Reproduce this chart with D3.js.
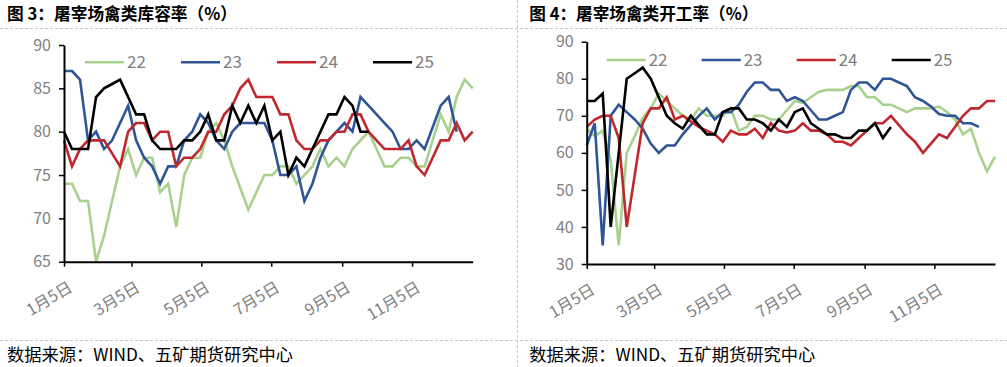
<!DOCTYPE html>
<html><head><meta charset="utf-8">
<script src="https://cdn.jsdelivr.net/npm/d3@7"></script>
<style>
html,body{margin:0;padding:0;background:#fff;}
svg{display:block;}
</style></head>
<body>
<svg id="c" width="1007" height="367"></svg>
<script>
// ---------- data ----------
const seriesNames = ["22", "23", "24", "25"];
const seriesColors = ["#A9D18E", "#2F5597", "#C0282D", "#000000"];
const startDate = "2025-01-05";           // first weekly observation
const tickDates = ["2025-01-05","2025-03-05","2025-05-05","2025-07-05","2025-09-05","2025-11-05"];
const endDate = "2025-12-28";

// 图3 屠宰场禽类库容率
const stock22 = [74,74,72,72,65,68,72,76,78,75,77,77,73,74,69,75,77,77,80,81,79,76,73.5,71,73,75,75,76,76,74,75,76,78,76,77,76,78,79,80,78,76,76,77,77,76,76,79,82,80,84,86,85];
const stock23 = [87,87,86,79,80,78,79,81,83,79,77,76,74,76,76,79,80,82,81,79,78,80,81,81,81,81,79,75,75,76,72,74,77,79,80,81,80,84,83,82,81,80,78,78,79,78,80.5,83,84,80];
const stock24 = [79,76,78,79,79,79,77.5,76,80,81,81,79,80,80,76,77,77,78,80,80,82,83,85,86,84,84,84,82,82,79,78,78,79,79,80,80,82,82,80,79,78,78,78,79,76,75,77,79,79,81,79,80];
const stock25 = [80,78,78,78,84,85,85.5,86,84,82,82,79,78,78,78,79,79,80,82,79,79,83,81,83,81,83,79,80,75,77,76,78,80,82,82,84,83,80,80];
const stockTicks = [65,70,75,80,85,90];

// 图4 屠宰场禽类开工率
const oper22 = [66.5,64.5,66,58,35,60,64.5,69.5,72,76,74,72,70,69,72,70,70,70,72,66,67,70,70,69,69,71.5,74,73.5,75,76.5,77,77,77,78,78,75,75,73,73,72,71,72,72,72,72.5,71,69,65,66.5,60,55,59];
const oper23 = [62,68,35,70,73,71,69,66.5,62.5,60,62,62,65,67.5,70,72,69,71,71,73,76.5,79,79,77,77,74,75,74,71.5,69,69,70,71,77,79,79,77,80,80,79,78,75,74,72.5,70.5,70,70,68,68,67];
const oper24 = [67,69,70,70,64,40,54,68,72,72,75,69,70,68.5,67,66,65,63,66,65,65,66.5,64,68,66,65.5,66,68,66,66,65,63,63,62,64,66,68,68,70,67.5,65,63,60,62.5,65,64,67,70,72,72,74,74];
const oper25 = [74,74,76,40,60,80,81.5,83,80,75,70,68,66.5,70,67.5,65,65,71,72,72,69,69,68,66,69,67,71,72,68,66.5,65,65,64,64,66,66,68,64,67];
const operTicks = [30,40,50,60,70,80,90];

// ---------- drawing ----------
const svg = d3.select("#c");
const parse = d3.timeParse("%Y-%m-%d");
const fmt = d => (d.getMonth()+1) + "月" + d.getDate() + "日";
const grey = "#7f7f7f";
const font = "'Noto Sans CJK SC','Noto Sans',sans-serif";

// frame
const frame = svg.append("g").attr("stroke","#c8c8c8").attr("stroke-dasharray","3,2").attr("stroke-width",1);
frame.append("line").attr("x1",0).attr("x2",1007).attr("y1",28.5).attr("y2",28.5);
frame.append("line").attr("x1",0).attr("x2",1007).attr("y1",340.5).attr("y2",340.5);
frame.append("line").attr("x1",517.5).attr("x2",517.5).attr("y1",0).attr("y2",367);

function panel(cfg) {
  const g = svg.append("g");
  // title
  g.append("text").attr("x",cfg.tx).attr("y",19.5)
    .attr("font-family",font).attr("font-weight","bold").attr("font-size",17)
    .attr("textLength",cfg.tLen).attr("lengthAdjust","spacingAndGlyphs")
    .attr("fill","#000").text(cfg.title);
  // footer
  g.append("text").attr("x",cfg.tx).attr("y",361)
    .attr("font-family",font).attr("font-size",17)
    .attr("textLength",286).attr("lengthAdjust","spacingAndGlyphs")
    .attr("fill","#000").text("数据来源：WIND、五矿期货研究中心");

  const x = d3.scaleTime().domain([parse(startDate), parse(endDate)]).range([cfg.x0, cfg.x1]);
  const y = d3.scaleLinear().domain([cfg.ticks[0], cfg.ticks[cfg.ticks.length-1]]).range([cfg.y0, cfg.y1]);

  // lines
  const line = d3.line().x((d,i)=>x(d3.timeDay.offset(parse(startDate), 7*i))).y(d=>y(d));
  cfg.data.forEach((arr,k)=>{
    g.append("path").datum(arr).attr("d",line).attr("fill","none")
      .attr("stroke",seriesColors[k]).attr("stroke-width",2.6)
      .attr("stroke-linejoin","miter").attr("stroke-linecap","butt");
  });

  // y axis
  const ya = g.append("g").attr("transform",`translate(${cfg.x0},0)`)
    .call(d3.axisLeft(y).tickValues(cfg.ticks).tickSize(5).tickPadding(8).tickSizeOuter(0));
  ya.select(".domain").attr("stroke","#000").attr("stroke-width",2);
  ya.selectAll(".tick line").attr("stroke","#000").attr("stroke-width",1.5);
  ya.selectAll("text").attr("font-family",font).attr("font-size",16).attr("fill",grey);

  // x axis
  const xa = g.append("g").attr("transform",`translate(0,${cfg.y0})`)
    .call(d3.axisBottom(x).tickValues(tickDates.map(parse)).tickFormat(fmt).tickSize(5).tickSizeOuter(0));
  xa.select(".domain").attr("stroke","#000").attr("stroke-width",2);
  xa.selectAll(".tick line").attr("stroke","#000").attr("stroke-width",1.5);
  xa.selectAll("text").attr("font-family",font).attr("font-size",16).attr("fill",grey)
    .attr("text-anchor","end").attr("dy","0.35em")
    .attr("transform","translate(6,24) rotate(-31)").attr("y",0);

  // legend
  seriesNames.forEach((n,k)=>{
    const lx = cfg.lx + k*cfg.ldx;
    g.append("line").attr("x1",lx).attr("x2",lx+39).attr("y1",cfg.ly).attr("y2",cfg.ly)
      .attr("stroke",seriesColors[k]).attr("stroke-width",2.6);
    g.append("text").attr("x",lx+42).attr("y",cfg.ly).attr("dy","0.36em")
      .attr("font-family",font).attr("font-size",17).attr("fill",grey).text(n);
  });
}

panel({title:"图 3：屠宰场禽类库容率（%）", tx:7, tLen:230,
  x0:64, x1:472.7, y0:261.7, y1:45, ticks:stockTicks,
  data:[stock22,stock23,stock24,stock25], lx:85, ldx:96, ly:62.3});
panel({title:"图 4：屠宰场禽类开工率（%）", tx:529.3, tLen:229,
  x0:586.7, x1:995, y0:264, y1:41.7, ticks:operTicks,
  data:[oper22,oper23,oper24,oper25], lx:606.7, ldx:95, ly:60});
</script>
</body></html>
